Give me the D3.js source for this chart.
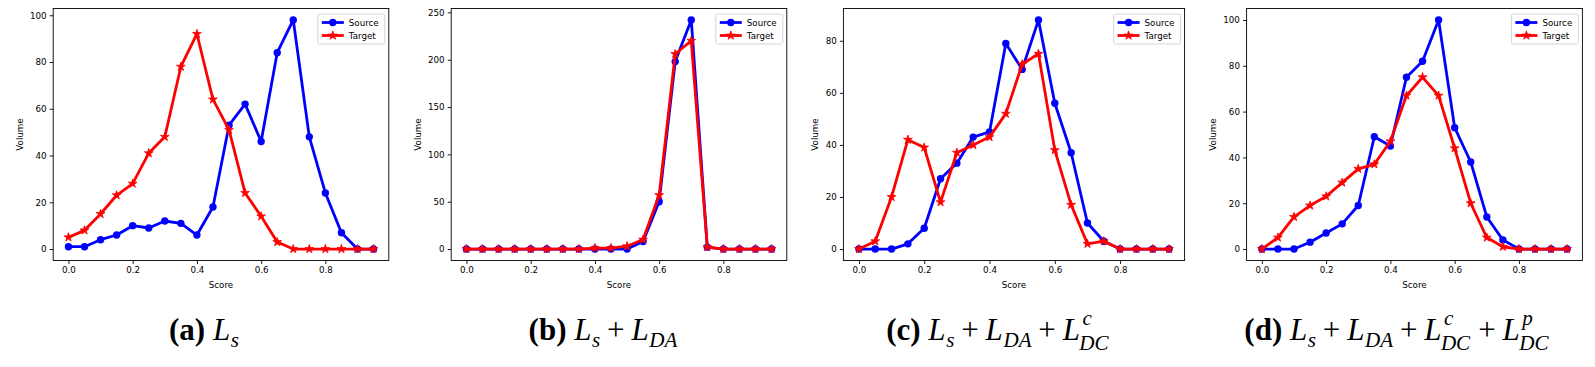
<!DOCTYPE html>
<html><head><meta charset="utf-8">
<script src="https://cdn.jsdelivr.net/npm/d3@7"></script>
<style>body{margin:0;background:#fff}</style>
</head><body>
<svg id="c" width="1595" height="367"></svg>
<script>
// ---------- data ----------
const scores = [0.00,0.05,0.10,0.15,0.20,0.25,0.30,0.35,0.40,0.45,0.50,0.55,0.60,0.65,0.70,0.75,0.80,0.85,0.90,0.95];
const xTicks = [0.0,0.2,0.4,0.6,0.8];
const seriesNames = ["Source","Target"];

const sourceA = [1,1,4,6,10,9,12,11,6,18,53,62,46,84,98,48,24,7,0,0];
const targetA = [5,8,15,23,28,41,48,78,92,64,51,24,14,3,0,0,0,0,0,0];
const yTicksA = [0,20,40,60,80,100];

const sourceB = [0,0,0,0,0,0,0,0,0,0,0,8,50,198,242,2,0,0,0,0];
const targetB = [0,0,0,0,0,0,0,0,1,1,3,10,57,206,220,2,0,0,0,0];
const yTicksB = [0,50,100,150,200,250];

const sourceC = [0,0,0,2,8,27,33,43,45,79,69,88,56,37,10,3,0,0,0,0];
const targetC = [0,3,20,42,39,18,37,40,43,52,71,75,38,17,2,3,0,0,0,0];
const yTicksC = [0,20,40,60,80];

const sourceD = [0,0,0,3,7,11,19,49,45,75,82,100,53,38,14,4,0,0,0,0];
const targetD = [0,5,14,19,23,29,35,37,47,67,75,67,44,20,5,1,0,0,0,0];
const yTicksD = [0,20,40,60,80,100];

const captionLetters = ["(a)","(b)","(c)","(d)"];
const termLs = {base:"L", sub:"s"};
const termLDA = {base:"L", sub:"DA"};
const termLDCc = {base:"L", sub:"DC", sup:"c"};
const termLDCp = {base:"L", sub:"DC", sup:"p"};
const captionTerms = [
  [termLs],
  [termLs, termLDA],
  [termLs, termLDA, termLDCc],
  [termLs, termLDA, termLDCc, termLDCp]
];

// ---------- layout ----------
const svg = d3.select("#c");
const TOP = 8.5, BOTTOM = 260.5;
const FONT = "DejaVu Sans, sans-serif";
const FS = 8.7;
const BLUE = "#0000ff", RED = "#ff0000";

const panels = [
  {src: sourceA, tgt: targetA, yTicks: yTicksA, left: 53.2, right: 388.8, ylabX: 20, capX: 204},
  {src: sourceB, tgt: targetB, yTicks: yTicksB, left: 451.2, right: 786.8, ylabX: 418, capX: 603},
  {src: sourceC, tgt: targetC, yTicks: yTicksC, left: 843.4, right: 1184.6, ylabX: 815, capX: 998},
  {src: sourceD, tgt: targetD, yTicks: yTicksD, left: 1246.6, right: 1582.4, ylabX: 1213, capX: 1397}
];

panels.forEach((p, i) => {
  const g = svg.append("g");
  const xmin = d3.min(scores), xmax = d3.max(scores);
  const xr = xmax - xmin;
  const x = d3.scaleLinear().domain([xmin - 0.05*xr, xmax + 0.05*xr]).range([p.left, p.right]);
  const ymax = d3.max(p.src.concat(p.tgt)), ymin = 0;
  const yr = ymax - ymin;
  const y = d3.scaleLinear().domain([ymin - 0.05*yr, ymax + 0.05*yr]).range([BOTTOM, TOP]);

  // axes
  const xAxis = d3.axisBottom(x).tickValues(xTicks).tickFormat(d3.format(".1f")).tickSizeOuter(0).tickSize(3.5).tickPadding(3.2);
  const yAxis = d3.axisLeft(y).tickValues(p.yTicks).tickFormat(d3.format("d")).tickSizeOuter(0).tickSize(3.5).tickPadding(3.2);
  const gx = g.append("g").attr("transform", `translate(0,${BOTTOM})`).call(xAxis);
  const gy = g.append("g").attr("transform", `translate(${p.left},0)`).call(yAxis);
  [gx, gy].forEach(a => {
    a.select(".domain").remove();
    a.selectAll("text").attr("font-family", FONT).attr("font-size", FS).attr("fill", "#000");
    a.selectAll("line").attr("stroke", "#000").attr("stroke-width", 0.9);
  });

  // lines
  const line = d3.line().x(d => x(d[0])).y(d => y(d[1]));
  const dsrc = scores.map((s, k) => [s, p.src[k]]);
  const dtgt = scores.map((s, k) => [s, p.tgt[k]]);

  g.append("path").datum(dsrc).attr("d", line).attr("fill", "none").attr("stroke", BLUE).attr("stroke-width", 2.8).attr("stroke-linejoin", "round");
  g.selectAll(".sm").data(dsrc).enter().append("circle")
    .attr("cx", d => x(d[0])).attr("cy", d => y(d[1])).attr("r", 3.7).attr("fill", BLUE);

  g.append("path").datum(dtgt).attr("d", line).attr("fill", "none").attr("stroke", RED).attr("stroke-width", 2.8).attr("stroke-linejoin", "round");
  const star = d3.symbol().type(d3.symbolStar).size(24);
  g.selectAll(".tm").data(dtgt).enter().append("path")
    .attr("d", star).attr("transform", d => `translate(${x(d[0])},${y(d[1])})`)
    .attr("fill", RED).attr("stroke", RED).attr("stroke-width", 0.8);

  // frame
  g.append("rect").attr("x", p.left).attr("y", TOP).attr("width", p.right - p.left).attr("height", BOTTOM - TOP)
    .attr("fill", "none").attr("stroke", "#000").attr("stroke-width", 0.9);

  // axis labels
  g.append("text").attr("x", (p.left + p.right)/2).attr("y", 288).attr("text-anchor", "middle")
    .attr("font-family", FONT).attr("font-size", FS).text("Score");
  g.append("text").attr("transform", `translate(${p.ylabX},${(TOP+BOTTOM)/2}) rotate(-90)`)
    .attr("text-anchor", "middle").attr("dominant-baseline", "middle")
    .attr("font-family", FONT).attr("font-size", FS).text("Volume");

  // legend
  const lw = 67, lh = 30;
  const lx = p.right - 4 - lw, ly = TOP + 5.5;
  const lg = g.append("g");
  lg.append("rect").attr("x", lx).attr("y", ly).attr("width", lw).attr("height", lh).attr("rx", 2)
    .attr("fill", "#fff").attr("fill-opacity", 0.8).attr("stroke", "#cccccc").attr("stroke-width", 0.8);
  const colors = [BLUE, RED];
  seriesNames.forEach((name, k) => {
    const ry = ly + 8.5 + k*13;
    lg.append("line").attr("x1", lx + 4).attr("x2", lx + 26).attr("y1", ry).attr("y2", ry)
      .attr("stroke", colors[k]).attr("stroke-width", 2.8);
    if (k === 0) lg.append("circle").attr("cx", lx + 15).attr("cy", ry).attr("r", 3.7).attr("fill", BLUE);
    else lg.append("path").attr("d", star).attr("transform", `translate(${lx+15},${ry})`).attr("fill", RED).attr("stroke", RED).attr("stroke-width", 0.8);
    lg.append("text").attr("x", lx + 31).attr("y", ry).attr("dominant-baseline", "central")
      .attr("font-family", FONT).attr("font-size", FS).text(name);
  });

  // caption
  const F = 31;
  const cg = svg.append("g");
  const serif = "Liberation Serif, Times New Roman, serif";
  let cx = 0;
  const put = (txt, opts) => {
    const t = cg.append("text").attr("x", opts.x !== undefined ? opts.x : cx).attr("y", opts.dy || 0)
      .attr("font-family", serif).attr("font-size", opts.size || F)
      .attr("font-style", opts.italic ? "italic" : "normal")
      .attr("font-weight", opts.bold ? "bold" : "normal").text(txt);
    return t.node().getComputedTextLength();
  };
  cx += put(captionLetters[i], {bold: true});
  cx += F * 0.25;
  captionTerms[i].forEach((term, k) => {
    if (k > 0) {
      cx += F * 0.22;
      cx += put("+", {});
      cx += F * 0.22;
    }
    cx += put(term.base, {italic: true});
    const sx = cx + F*0.02;
    const subDy = term.sup ? F*0.33 : F*0.24;
    let w = put(term.sub, {italic: true, size: F*0.68, x: sx - (term.sup ? F*0.04 : 0), dy: subDy});
    if (term.sup) {
      const w2 = put(term.sup, {italic: true, size: F*0.68, x: sx + F*0.06, dy: -F*0.48});
      w = Math.max(w, w2);
    }
    cx = sx + w;
  });
  cg.attr("transform", `translate(${p.capX - cx/2},340)`);
});
</script>
</body></html>
